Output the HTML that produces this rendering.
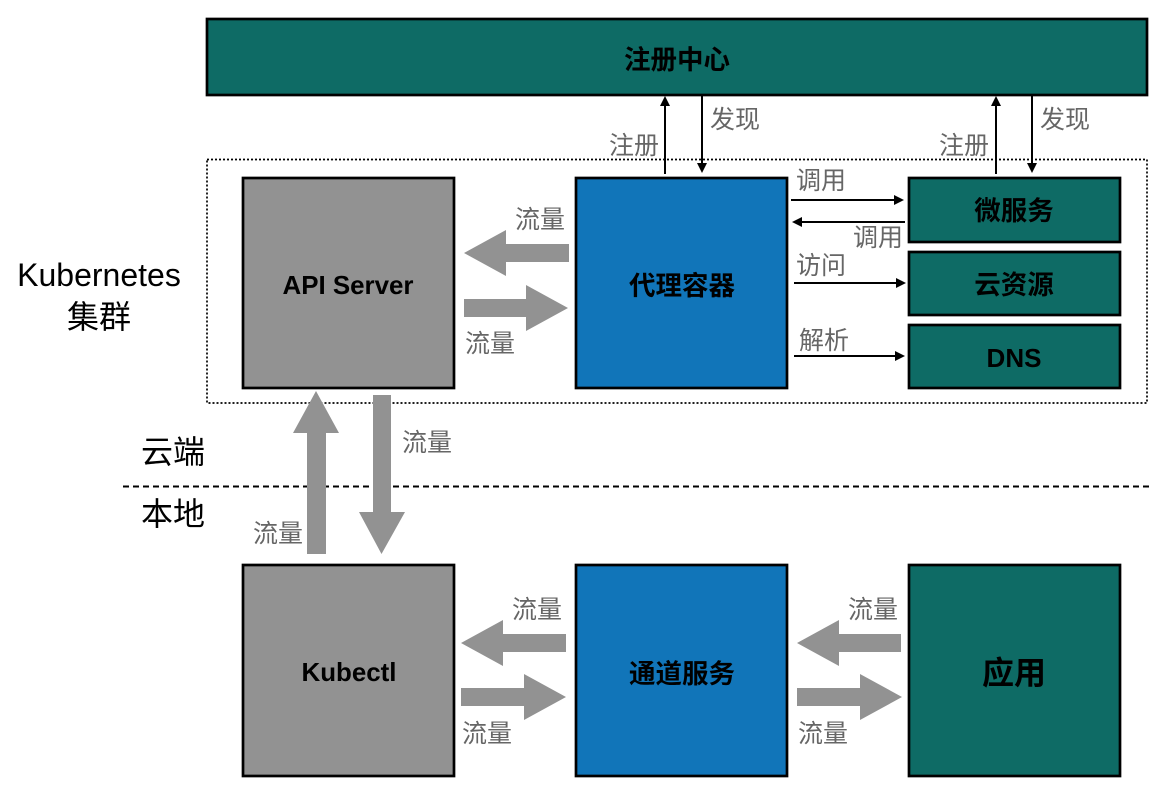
<!DOCTYPE html>
<html><head><meta charset="utf-8"><style>
html,body{margin:0;padding:0;background:#fff}
svg{display:block}
text{font-family:"Liberation Sans","Noto Sans CJK SC",sans-serif}
.b{fill:#000;font-weight:bold;text-anchor:middle;font-size:26.500px}
.g{fill:#666;font-size:25px;text-anchor:middle}
.k{fill:#000;font-size:32px;text-anchor:middle}
.t{fill:#0e6b65;stroke:#000;stroke-width:2.700}
.u{fill:#1175b9;stroke:#000;stroke-width:2.700}
.a{fill:#929292;stroke:#000;stroke-width:2.700}
.f{fill:#929292}
.l{stroke:#000;stroke-width:2;fill:none}
</style></head><body>
<svg width="1174" height="788" viewBox="0 0 1174 788" xmlns="http://www.w3.org/2000/svg">
<rect width="1174" height="788" fill="#fff"/>
<rect x="207" y="19" width="940" height="76" class="t"/>
<rect x="207" y="159.500" width="940" height="243.500" fill="none" stroke="#000" stroke-width="1.700" stroke-dasharray="2 2"/>
<rect x="243" y="178" width="211" height="210" class="a"/>
<rect x="576" y="178" width="211" height="210" class="u"/>
<rect x="909" y="178" width="211" height="64" class="t"/>
<rect x="909" y="252" width="211" height="63" class="t"/>
<rect x="909" y="325" width="211" height="63" class="t"/>
<rect x="243" y="565" width="211" height="211" class="a"/>
<rect x="576" y="565" width="211" height="211" class="u"/>
<rect x="909" y="565" width="211" height="211" class="t"/>
<line x1="123" y1="486.500" x2="1150" y2="486.500" stroke="#000" stroke-width="2" stroke-dasharray="6 4"/>
<polygon class="f" points="464,253 506,230 506,244 569,244 569,262 506,262 506,276"/>
<polygon class="f" points="568,308 526,285 526,299 464,299 464,317 526,317 526,331"/>
<polygon class="f" points="316,391 339,433 326,433 326,554 307,554 307,433 293,433"/>
<polygon class="f" points="381.500,554 405,512 391,512 391,395 373,395 373,512 359,512"/>
<polygon class="f" points="461,643 503,620 503,634 566,634 566,652 503,652 503,666"/>
<polygon class="f" points="566,697 524,674 524,688 461,688 461,706 524,706 524,720"/>
<polygon class="f" points="797,643 839,620 839,634 901,634 901,652 839,652 839,666"/>
<polygon class="f" points="902,697 860,674 860,688 797,688 797,706 860,706 860,720"/>
<line class="l" x1="665" y1="174" x2="665" y2="104"/><polygon points="665,96 660,106 670,106"/>
<line class="l" x1="702" y1="96" x2="702" y2="165"/><polygon points="702,173 697,163 707,163"/>
<line class="l" x1="996" y1="174" x2="996" y2="104"/><polygon points="996,96 991,106 1001,106"/>
<line class="l" x1="1032" y1="96" x2="1032" y2="165"/><polygon points="1032,173 1027,163 1037,163"/>
<line class="l" x1="791" y1="200" x2="896" y2="200"/><polygon points="904,200 894,195 894,205"/>
<line class="l" x1="905" y1="222" x2="800" y2="222"/><polygon points="792,222 802,217 802,227"/>
<line class="l" x1="794" y1="283" x2="898" y2="283"/><polygon points="906,283 896,278 896,288"/>
<line class="l" x1="794" y1="356" x2="897" y2="356"/><polygon points="905,356 895,351 895,361"/>
<text class="b" x="677" y="69">注册中心</text>
<text class="b" x="348" y="294" style="font-size:25.900px">API Server</text>
<text class="b" x="682" y="295">代理容器</text>
<text class="b" x="1014" y="220">微服务</text>
<text class="b" x="1014" y="294">云资源</text>
<text class="b" x="1014" y="367" style="font-size:26px">DNS</text>
<text class="b" x="349" y="681" style="font-size:25.900px">Kubectl</text>
<text class="b" x="682" y="683">通道服务</text>
<text class="b" x="1014" y="684" style="font-size:32px">应用</text>
<text class="k" x="99" y="286">Kubernetes</text>
<text class="k" x="99" y="328">集群</text>
<text class="k" x="173" y="463">云端</text>
<text class="k" x="173" y="525">本地</text>
<text class="g" x="735" y="128">发现</text>
<text class="g" x="634" y="154">注册</text>
<text class="g" x="1065" y="128">发现</text>
<text class="g" x="964" y="154">注册</text>
<text class="g" x="821" y="189">调用</text>
<text class="g" x="878" y="246">调用</text>
<text class="g" x="821" y="274">访问</text>
<text class="g" x="824" y="349">解析</text>
<text class="g" x="540" y="228">流量</text>
<text class="g" x="490" y="352">流量</text>
<text class="g" x="427" y="451">流量</text>
<text class="g" x="278" y="542">流量</text>
<text class="g" x="537" y="618">流量</text>
<text class="g" x="487" y="742">流量</text>
<text class="g" x="873" y="618">流量</text>
<text class="g" x="823" y="742">流量</text>
</svg>
</body></html>
